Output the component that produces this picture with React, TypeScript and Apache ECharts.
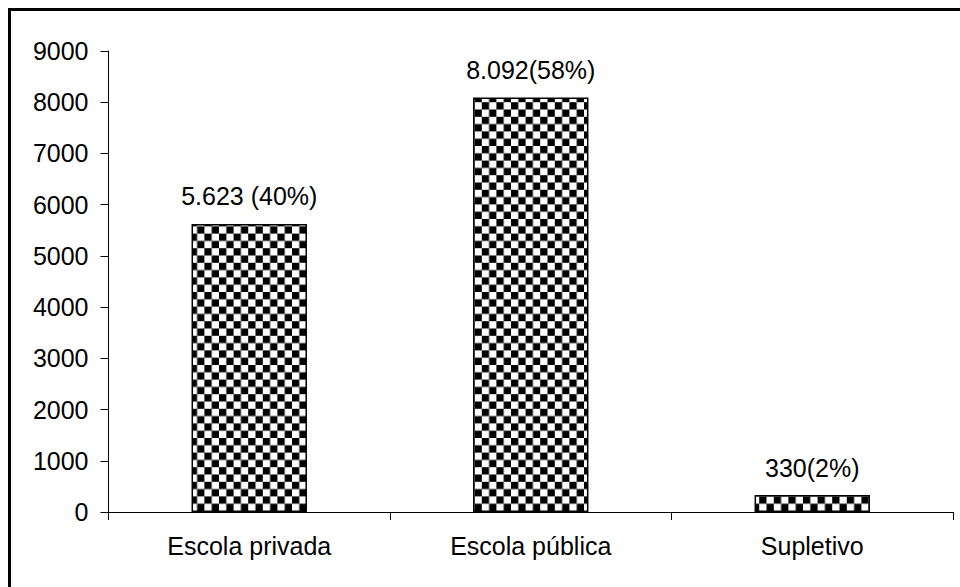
import React, { useEffect, useRef } from "react";
import * as echarts from "echarts";

const categories = ["Escola privada", "Escola pública", "Supletivo"];
const values = [5623, 8092, 330];
const barLabels = ["5.623 (40%)", "8.092(58%)", "330(2%)"];
const yMin = 0;
const yMax = 9000;
const yInterval = 1000;

function makeChecker(): HTMLCanvasElement {
  const c = document.createElement("canvas");
  const s = 10;
  c.width = s * 2;
  c.height = s * 2;
  const ctx = c.getContext("2d")!;
  ctx.fillStyle = "#ffffff";
  ctx.fillRect(0, 0, s * 2, s * 2);
  ctx.fillStyle = "#000000";
  ctx.fillRect(0, 0, s, s);
  ctx.fillRect(s, s, s, s);
  return c;
}

export default function App() {
  const ref = useRef<HTMLDivElement>(null);
  useEffect(() => {
    if (!ref.current) return;
    const chart = echarts.init(ref.current, undefined, { renderer: "svg" });
    const pattern = makeChecker();
    const font = "'Liberation Sans', Arial, sans-serif";
    const fs = 25;
    chart.setOption({
      animation: false,
      backgroundColor: "#ffffff",
      textStyle: { fontFamily: font },
      grid: { left: 108.5, right: 7, top: 51, bottom: 75, containLabel: false },
      graphic: [
        {
          type: "rect",
          shape: { x: 9.5, y: 9.5, width: 1200, height: 1200 },
          style: { fill: "none", stroke: "#000", lineWidth: 3 },
          silent: true,
        },
      ],
      xAxis: {
        type: "category",
        data: categories,
        boundaryGap: true,
        axisLine: { show: true, lineStyle: { color: "#000", width: 1 } },
        axisTick: { show: true, length: 8, alignWithLabel: false, lineStyle: { color: "#000" } },
        axisLabel: { color: "#000", fontSize: fs, fontFamily: font, margin: 21 },
        splitLine: { show: false },
      },
      yAxis: {
        type: "value",
        min: yMin,
        max: yMax,
        interval: yInterval,
        axisLine: { show: true, lineStyle: { color: "#000", width: 1 } },
        axisTick: { show: true, length: 8, lineStyle: { color: "#000" } },
        axisLabel: {
          color: "#000",
          fontSize: fs,
          fontFamily: font,
          margin: 20,
          formatter: (v: number) => String(v),
        },
        splitLine: { show: false },
      },
      series: [
        {
          type: "bar",
          data: values,
          barWidth: "41%",
          itemStyle: {
            color: { image: pattern, repeat: "repeat", scaleX: 0.73, scaleY: 0.73 },
            borderColor: "#000",
            borderWidth: 1.5,
          },
          label: {
            show: true,
            position: "top",
            distance: 15,
            color: "#000",
            fontSize: fs,
            fontFamily: font,
            formatter: (p: any) => barLabels[p.dataIndex],
          },
        },
      ],
    });
    return () => chart.dispose();
  }, []);
  return (
    <div
      ref={ref}
      style={{ position: "absolute", left: 0, top: 0, width: 960, height: 587 }}
    />
  );
}
